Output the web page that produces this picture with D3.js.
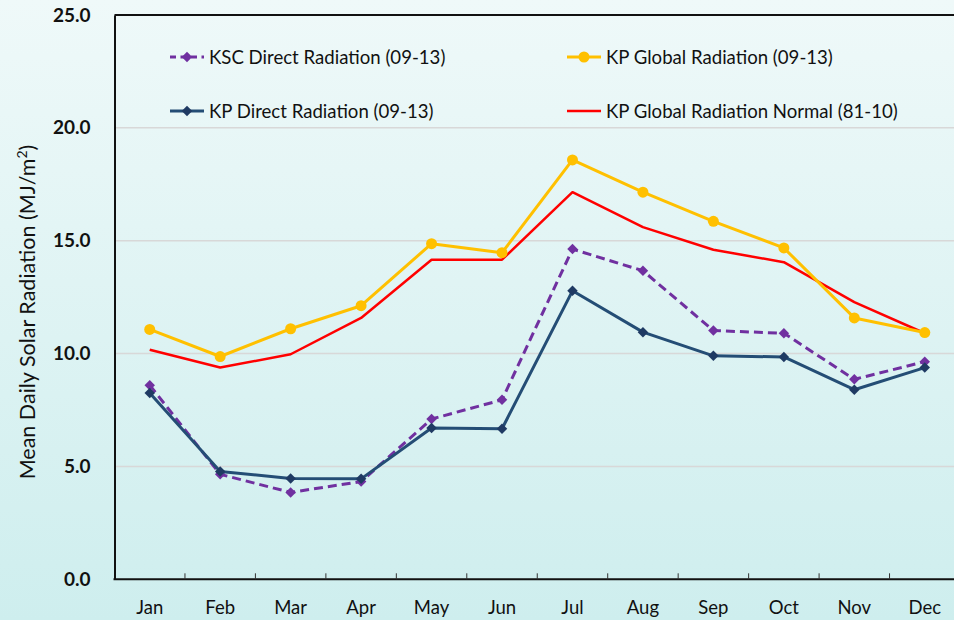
<!DOCTYPE html>
<html>
<head>
<meta charset="utf-8">
<script src="https://cdn.jsdelivr.net/npm/d3@7"></script>
<style>
  html, body { margin: 0; padding: 0; }
  body { width: 954px; height: 620px; overflow: hidden; }
  svg { display: block; font-family: Lato, "Open Sans", "Liberation Sans", sans-serif; }
</style>
</head>
<body>
<svg id="chart" width="954" height="620"></svg>
<script>
// Monthly categories
const months = ["Jan","Feb","Mar","Apr","May","Jun","Jul","Aug","Sep","Oct","Nov","Dec"];

// Mean daily solar radiation (MJ/m²)
const kscDirect    = [8.6, 4.65, 3.85, 4.33, 7.1, 7.95, 14.63, 13.67, 11.02, 10.9, 8.86, 9.64];
const kpDirect     = [8.25, 4.78, 4.47, 4.45, 6.7, 6.67, 12.78, 10.95, 9.9, 9.85, 8.4, 9.38];
const kpGlobal     = [11.07, 9.87, 11.1, 12.12, 14.87, 14.47, 18.58, 17.15, 15.86, 14.68, 11.58, 10.93];
const kpGlobalNorm = [10.17, 9.38, 9.97, 11.58, 14.16, 14.16, 17.15, 15.6, 14.6, 14.05, 12.28, 10.9];

// Y axis tick values
const yTicks = [0, 5, 10, 15, 20, 25];

const svg = d3.select("#chart");
const W = 954, H = 620;
const margin = { left: 114.5, top: 15, bottom: 579.3 };
const plotRight = 960;

// Background gradient
const defs = svg.append("defs");
const grad = defs.append("linearGradient").attr("id", "bg").attr("x1", 0).attr("y1", 0).attr("x2", 0).attr("y2", 1);
grad.append("stop").attr("offset", "0%").attr("stop-color", "#eff9f9");
grad.append("stop").attr("offset", "100%").attr("stop-color", "#ceeeee");
svg.append("rect").attr("width", W).attr("height", H).attr("fill", "url(#bg)");

const x = d3.scaleBand().domain(months).range([margin.left, plotRight]).paddingInner(0).paddingOuter(0);
const y = d3.scaleLinear().domain([0, 25]).range([margin.bottom, margin.top]);
const cx = m => x(m) + x.bandwidth() / 2;

// Horizontal gridlines
svg.append("g").selectAll("line")
  .data(yTicks.filter(t => t > 0 && t < 25))
  .join("line")
  .attr("x1", margin.left).attr("x2", W)
  .attr("y1", d => y(d)).attr("y2", d => y(d))
  .attr("stroke", "#d8d8d8").attr("stroke-width", 1.5);

// Top border of plot area
svg.append("line")
  .attr("x1", margin.left).attr("x2", W)
  .attr("y1", y(25)).attr("y2", y(25))
  .attr("stroke", "#111").attr("stroke-width", 2);

// Y axis
const yAxis = svg.append("g")
  .attr("transform", `translate(${margin.left},0)`)
  .call(d3.axisLeft(y).tickValues(yTicks).tickSize(0).tickPadding(24).tickFormat(d3.format(".1f")));
yAxis.select(".domain").attr("stroke", "#111").attr("stroke-width", 2);
yAxis.selectAll("text")
  .attr("font-size", 19).attr("font-weight", "bold").attr("fill", "#111")
  .attr("font-family", "Lato, 'Open Sans', sans-serif");

// X axis with ticks at category boundaries, pointing inward
const xAxisG = svg.append("g").attr("transform", `translate(0,${margin.bottom})`);
xAxisG.append("line")
  .attr("x1", margin.left - 1).attr("x2", W)
  .attr("stroke", "#111").attr("stroke-width", 2);
xAxisG.selectAll("line.tick")
  .data(months.slice(1))
  .join("line").attr("class", "tick")
  .attr("x1", d => x(d)).attr("x2", d => x(d))
  .attr("y1", 0).attr("y2", -6)
  .attr("stroke", "#333").attr("stroke-width", 1);
xAxisG.selectAll("text")
  .data(months)
  .join("text")
  .attr("x", d => cx(d)).attr("y", 35)
  .attr("text-anchor", "middle")
  .attr("font-size", 18.5).attr("fill", "#111")
  .text(d => d);

// Y axis title
svg.append("text")
  .attr("transform", `translate(35,${312}) rotate(-90)`)
  .attr("text-anchor", "middle")
  .attr("font-size", 21.5).attr("fill", "#111")
  .call(t => {
    t.append("tspan").text("Mean Daily Solar Radiation (MJ/m");
    t.append("tspan").attr("font-size", 14).attr("dy", -8).text("2");
    t.append("tspan").attr("dy", 8).text(")");
  });

// Series definitions
const series = [
  { name: "KP Global Radiation Normal (81-10)", values: kpGlobalNorm, color: "#ff0000", width: 2.5, dash: null, marker: null },
  { name: "KP Global Radiation (09-13)", values: kpGlobal, color: "#ffc000", width: 3, dash: null, marker: "circle" },
  { name: "KSC Direct Radiation (09-13)", values: kscDirect, color: "#7030a0", width: 3, dash: "9,5", marker: "diamond" },
  { name: "KP Direct Radiation (09-13)", values: kpDirect, color: "#244d75", width: 3, dash: null, marker: "diamond", markerColor: "#1f3a63" }
];

const line = d3.line().x((d, i) => cx(months[i])).y(d => y(d));
const diamond = d3.symbol().type(d3.symbolDiamond2).size(70);
const circle = d3.symbol().type(d3.symbolCircle).size(95);

series.forEach(s => {
  const g = svg.append("g");
  g.append("path")
    .datum(s.values)
    .attr("d", line)
    .attr("fill", "none")
    .attr("stroke", s.color)
    .attr("stroke-width", s.width)
    .attr("stroke-linejoin", "round")
    .attr("stroke-dasharray", s.dash);
  if (s.marker) {
    g.selectAll("path.m")
      .data(s.values)
      .join("path").attr("class", "m")
      .attr("transform", (d, i) => `translate(${cx(months[i])},${y(d)})`)
      .attr("d", s.marker === "circle" ? circle : diamond)
      .attr("fill", s.markerColor || s.color);
  }
});

// Legend
const legendItems = [
  { s: series[2], lx: 170, ly: 57 },
  { s: series[3], lx: 170, ly: 111 },
  { s: series[1], lx: 567, ly: 57 },
  { s: series[0], lx: 567, ly: 111 }
];
const lg = svg.append("g");
legendItems.forEach(({ s, lx, ly }) => {
  lg.append("line")
    .attr("x1", lx).attr("x2", lx + 34)
    .attr("y1", ly).attr("y2", ly)
    .attr("stroke", s.color).attr("stroke-width", s.width)
    .attr("stroke-dasharray", s.dash ? "6,4.5" : null);
  if (s.marker) {
    lg.append("path")
      .attr("transform", `translate(${lx + 17},${ly})`)
      .attr("d", s.marker === "circle" ? circle : diamond)
      .attr("fill", s.markerColor || s.color);
  }
  lg.append("text")
    .attr("x", lx + 39).attr("y", ly + 6.5)
    .attr("font-size", 18.6).attr("fill", "#111")
    .text(s.name);
});
</script>
</body>
</html>
